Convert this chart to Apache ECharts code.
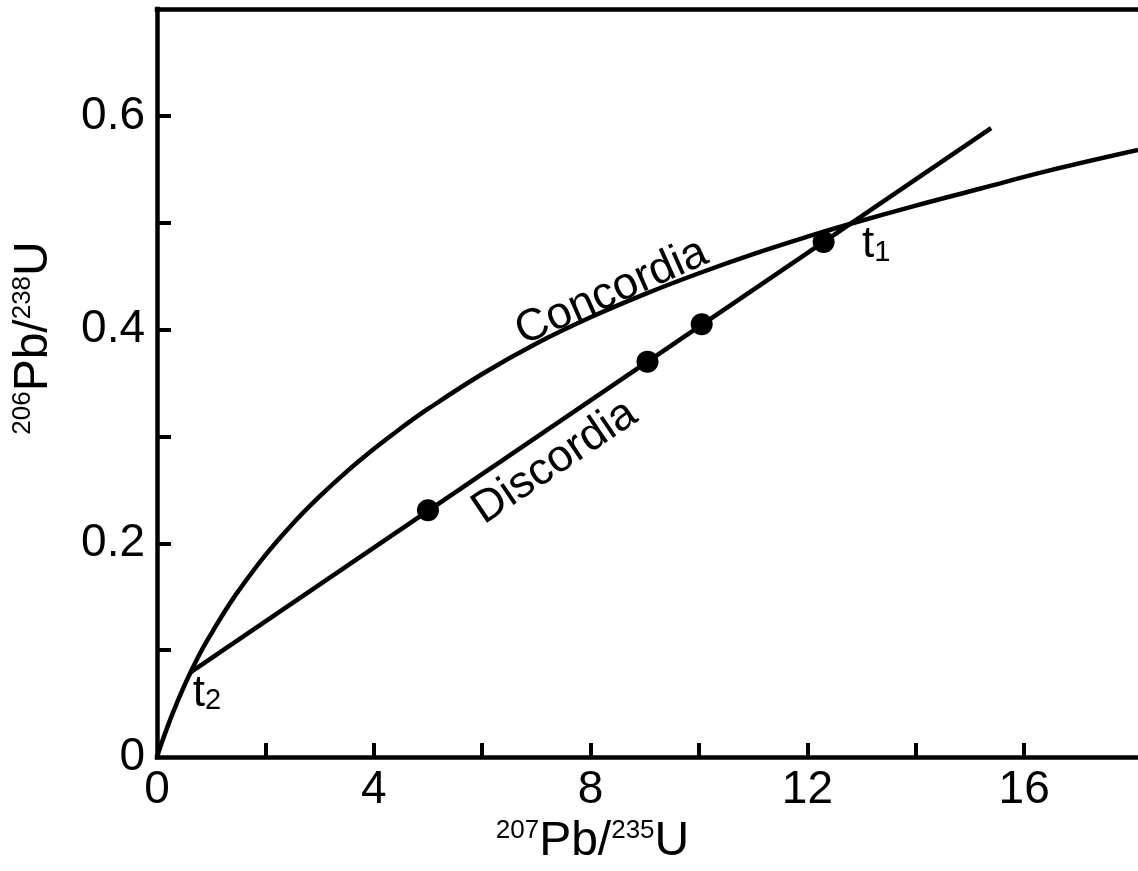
<!DOCTYPE html>
<html>
<head>
<meta charset="utf-8">
<title>Concordia diagram</title>
<script src="https://cdn.jsdelivr.net/npm/echarts@6/dist/echarts.min.js"></script>
<style>
  html, body { margin: 0; padding: 0; background: #ffffff; }
  #chart { width: 1138px; height: 871px; }
</style>
</head>
<body>
<div id="chart"></div>
<script>
const FONT = '"Liberation Sans", Arial, Helvetica, sans-serif';

// Concordia curve: 207Pb/235U (x) against 206Pb/238U (y)
const concordiaX = [0, 0.1, 0.2, 0.3, 0.45, 0.6, 0.8, 1.0, 1.25, 1.5, 2.0, 2.5, 3.0, 3.5, 4.0, 4.5, 5.0, 6.0, 7.0, 8.0, 9.0, 10.0, 11.0, 12.0, 12.8, 14.0, 15.2, 16.4, 18.1];
const concordiaY = [0, 0.0151, 0.0291, 0.0422, 0.0605, 0.0772, 0.0975, 0.1153, 0.1361, 0.1552, 0.1889, 0.2181, 0.2438, 0.2671, 0.2882, 0.3077, 0.3257, 0.3584, 0.3870, 0.4115, 0.4332, 0.4527, 0.4706, 0.4869, 0.4990, 0.5160, 0.5320, 0.5480, 0.5680];

// Discordia chord from the lower intercept (t2) up past the upper intercept (t1)
const discordiaX = [0.61, 15.39];
const discordiaY = [0.079, 0.5886];

// Analysed samples lying on the discordia
const sampleX = [5.0, 9.05, 10.05, 12.3];
const sampleY = [0.231, 0.370, 0.405, 0.482];

// Axis ticks and labels
const xTickValues = [2, 4, 6, 8, 10, 12, 14, 16];
const xLabelValues = [0, 4, 8, 12, 16];
const yTickValues = [0.1, 0.2, 0.3, 0.4, 0.5, 0.6];
const yLabelValues = [0, 0.2, 0.4, 0.6];

const zip = (xs, ys) => xs.map((x, i) => [x, ys[i]]);

const chart = echarts.init(document.getElementById('chart'), null, { renderer: 'canvas' });

const axisLineStyle = { color: '#000', width: 4.5, cap: 'square' };
const isoRich = {
  s: { fontFamily: FONT, fontSize: 26, color: '#000', verticalAlign: 'top' },
  m: { fontFamily: FONT, fontSize: 48, color: '#000' }
};
const tRich = {
  t: { fontFamily: FONT, fontSize: 44, color: '#000' },
  n: { fontFamily: FONT, fontSize: 29, color: '#000', verticalAlign: 'bottom' }
};

const option = {
  animation: false,
  backgroundColor: '#ffffff',
  grid: {
    left: 157, right: 0, top: 9, bottom: 114,
    containLabel: false,
    outerBoundsMode: 'none'
  },
  xAxis: [
    {
      type: 'value',
      min: 0, max: 18.1,
      position: 'bottom',
      splitLine: { show: false },
      axisLine: { show: true, onZero: false, lineStyle: axisLineStyle },
      axisTick: { show: true, inside: true, length: 14, customValues: xTickValues, lineStyle: { color: '#000', width: 4 } },
      axisLabel: {
        show: true, customValues: xLabelValues, margin: 10,
        fontFamily: FONT, fontSize: 46, color: '#000',
        formatter: v => String(v)
      },
      name: '{s|207}{m|Pb/}{s|235}{m|U}',
      nameLocation: 'middle',
      nameGap: 58,
      nameTextStyle: { rich: isoRich, padding: [0, 110, 0, 0] }
    },
    {
      // frame line along the top edge
      type: 'value',
      min: 0, max: 18.1,
      position: 'top',
      splitLine: { show: false },
      axisLine: { show: true, onZero: false, lineStyle: axisLineStyle },
      axisTick: { show: false },
      axisLabel: { show: false }
    }
  ],
  yAxis: {
    type: 'value',
    min: 0, max: 0.7,
    splitLine: { show: false },
    axisLine: { show: true, onZero: false, lineStyle: axisLineStyle },
    axisTick: { show: true, inside: true, length: 14, customValues: yTickValues, lineStyle: { color: '#000', width: 4 } },
    axisLabel: {
      show: true, customValues: yLabelValues, margin: 12,
      fontFamily: FONT, fontSize: 46, color: '#000',
      formatter: v => (v === 0 ? '0' : v.toFixed(1))
    },
    name: '{s|206}{m|Pb/}{s|238}{m|U}',
    nameLocation: 'middle',
    nameGap: 99,
    nameTextStyle: { rich: isoRich, padding: [0, 0, 0, 90] }
  },
  series: [
    {
      name: 'Concordia',
      type: 'line',
      data: zip(concordiaX, concordiaY),
      smooth: 0.4,
      showSymbol: false,
      lineStyle: { color: '#000', width: 4.5, join: 'round' },
      z: 3
    },
    {
      name: 'Discordia',
      type: 'line',
      data: zip(discordiaX, discordiaY),
      showSymbol: false,
      lineStyle: { color: '#000', width: 4.5 },
      z: 3
    },
    {
      name: 'Samples',
      type: 'scatter',
      data: zip(sampleX, sampleY),
      symbol: 'circle',
      symbolSize: 22,
      itemStyle: { color: '#000', opacity: 1 },
      z: 5
    },
    {
      name: 'Annotations',
      type: 'scatter',
      symbolSize: 1,
      itemStyle: { color: 'rgba(0,0,0,0)', opacity: 1 },
      silent: true,
      z: 6,
      label: { show: true, position: 'inside', color: '#000', opacity: 1, fontFamily: FONT },
      data: [
        { value: [8.39, 0.435], label: { formatter: 'Concordia', fontSize: 45, rotate: 24 } },
        { value: [7.34, 0.276], label: { formatter: 'Discordia', fontSize: 45, rotate: 34 } },
        { value: [13.27, 0.479], label: { formatter: '{t|t}{n|1}', rich: tRich } },
        { value: [0.92, 0.059], label: { formatter: '{t|t}{n|2}', rich: tRich } }
      ]
    }
  ]
};

chart.setOption(option);
</script>
</body>
</html>
